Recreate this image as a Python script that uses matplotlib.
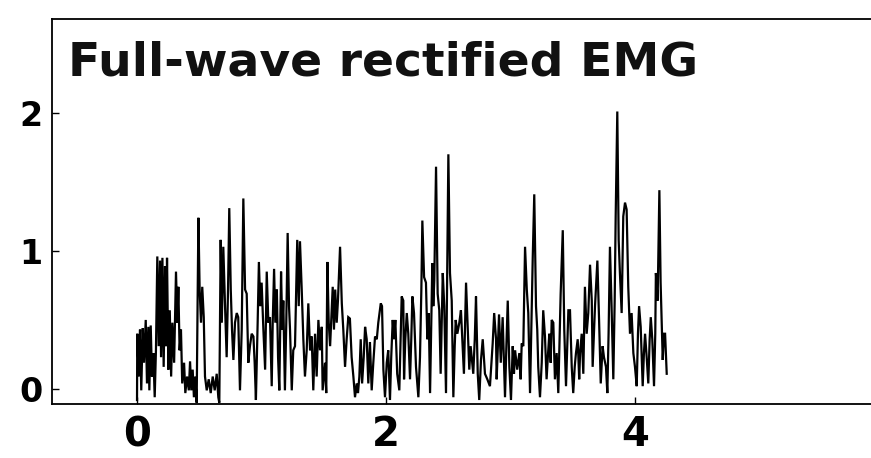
import matplotlib
matplotlib.use("Agg")
import matplotlib.pyplot as plt

title = "Full-wave rectified EMG"
x_ticks = [0, 2, 4]
y_ticks = [0, 1, 2]

t = [0.000, 0.002, 0.014, 0.024, 0.034, 0.046, 0.056, 0.070, 0.080, 0.091,
     0.099, 0.110, 0.120, 0.131, 0.142, 0.152, 0.163, 0.174, 0.185, 0.193,
     0.204, 0.214, 0.225, 0.233, 0.241, 0.252, 0.263, 0.274, 0.284, 0.298,
     0.313, 0.324, 0.332, 0.342, 0.353, 0.363, 0.378, 0.388, 0.402, 0.416,
     0.426, 0.436, 0.447, 0.457, 0.468, 0.479, 0.493, 0.503, 0.514, 0.524,
     0.536, 0.546, 0.560, 0.576, 0.592, 0.608, 0.624, 0.640, 0.653, 0.661,
     0.672,
     0.681, 0.693, 0.707, 0.720, 0.731, 0.741, 0.753, 0.763, 0.774, 0.787,
     0.801, 0.813, 0.827, 0.841, 0.854, 0.868, 0.881, 0.894, 0.907, 0.921,
     0.935, 0.945, 0.955, 0.969, 0.979, 0.990, 1.001, 1.015, 1.029, 1.042,
     1.055, 1.068, 1.082, 1.090, 1.101, 1.111, 1.123, 1.133, 1.143, 1.157,
     1.167, 1.175, 1.188, 1.199, 1.210, 1.221, 1.229, 1.243, 1.255, 1.269,
     1.279, 1.287, 1.299, 1.309, 1.323, 1.336, 1.349, 1.363, 1.376, 1.390,
     1.403, 1.416,
     1.430, 1.443, 1.457, 1.470, 1.484, 1.491, 1.510, 1.520, 1.529, 1.540,
     1.551, 1.561, 1.572, 1.582, 1.592, 1.604, 1.614, 1.631, 1.645, 1.657,
     1.671, 1.684, 1.697, 1.710, 1.724, 1.738, 1.751, 1.765, 1.775, 1.786,
     1.797, 1.808, 1.821, 1.832, 1.845, 1.858, 1.871, 1.885, 1.898, 1.912,
     1.926, 1.938, 1.958, 1.968, 1.979, 1.992, 2.006, 2.018, 2.032, 2.042,
     2.054, 2.064, 2.075, 2.090, 2.107, 2.126, 2.139,
     2.145, 2.155, 2.167, 2.179, 2.193, 2.203, 2.212, 2.225, 2.241, 2.260,
     2.273, 2.284, 2.292, 2.306, 2.321, 2.332, 2.343, 2.354, 2.372, 2.380,
     2.388, 2.402, 2.415, 2.428, 2.439, 2.456, 2.468, 2.482, 2.501, 2.514,
     2.528, 2.541, 2.552, 2.560, 2.573, 2.589, 2.602, 2.616, 2.626, 2.643,
     2.656, 2.669, 2.680, 2.701, 2.713, 2.723, 2.737, 2.749, 2.763, 2.777,
     2.795, 2.814, 2.835, 2.857, 2.869, 2.884,
     2.889, 2.908, 2.922, 2.937, 2.956, 2.967, 2.978, 2.991, 3.004, 3.018,
     3.028, 3.037, 3.054, 3.071, 3.082, 3.090, 3.103, 3.117, 3.131, 3.143,
     3.157, 3.167, 3.179, 3.191, 3.205, 3.215, 3.223, 3.237, 3.251, 3.263,
     3.277, 3.290, 3.302, 3.312, 3.323, 3.331, 3.344, 3.357, 3.371, 3.384,
     3.396, 3.403, 3.420, 3.432, 3.446, 3.456, 3.465, 3.478, 3.492, 3.504,
     3.516, 3.526, 3.540, 3.552,
     3.559, 3.572, 3.585, 3.598, 3.612, 3.625, 3.639, 3.653, 3.660, 3.670,
     3.679, 3.698, 3.711, 3.725, 3.740, 3.751, 3.767, 3.778, 3.788, 3.799,
     3.812, 3.826, 3.837, 3.845, 3.858, 3.869, 3.879, 3.893, 3.906, 3.920,
     3.933, 3.946, 3.960, 3.973, 3.987, 4.000, 4.014, 4.024, 4.033, 4.046,
     4.062, 4.072, 4.081, 4.094, 4.107, 4.118, 4.127, 4.139, 4.153, 4.163,
     4.168, 4.182, 4.196, 4.206, 4.223, 4.233, 4.242, 4.255]

emg = [-0.08, 0.40, 0.09, 0.43, -0.01, 0.44, 0.19, 0.50, 0.04, 0.45,
       -0.01, 0.46, 0.09, 0.26, -0.06, 0.28, 0.96, 0.31, 0.93, 0.23,
       0.95, 0.16, 0.89, 0.31, 0.95, 0.14, 0.57, 0.09, 0.48, 0.19,
       0.85, 0.48, 0.74, 0.28, 0.43, 0.04, 0.19, -0.03, 0.09, -0.01,
       0.20, -0.01, 0.14, -0.06, 0.09, -0.10, 1.24, 0.72, 0.48, 0.74,
       0.52, 0.09, -0.01, 0.07, -0.03, 0.09, -0.01, 0.11, -0.06, -0.10,
       1.08,
       0.48, 1.03, 0.60, 0.23, 0.72, 1.31, 0.72, 0.43, 0.21, 0.48,
       0.55, 0.52, -0.01, 0.43, 1.38, 0.72, 0.69, 0.19, 0.31, 0.40,
       0.38, 0.19, -0.08, 0.48, 0.92, 0.60, 0.77, 0.43, 0.14, 0.85,
       0.48, 0.52, 0.02, 0.48, 0.87, 0.48, 0.72, 0.23, -0.01, 0.85,
       0.43, 0.64, -0.01, 0.48, 1.13, 0.60, 0.43, -0.01, 0.28, 0.31,
       0.72, 1.08, 0.60, 1.07, 0.72, 0.36, 0.09, 0.28, 0.62, 0.28,
       0.38, -0.01,
       0.40, 0.09, 0.50, 0.28, 0.45, -0.01, 0.19, -0.03, 0.92, 0.48,
       0.31, 0.52, 0.74, 0.43, 0.72, 0.48, 0.64, 1.03, 0.62, 0.43,
       0.16, 0.36, 0.52, 0.51, 0.23, 0.09, -0.06, 0.04, -0.03, 0.09,
       0.36, 0.04, 0.23, 0.45, 0.36, 0.04, 0.34, -0.01, 0.19, 0.38,
       0.36, 0.48, 0.62, 0.60, 0.14, -0.06, 0.19, 0.28, -0.08, 0.23,
       0.50, 0.36, 0.50, 0.11, -0.01, 0.67, 0.64,
       0.07, 0.36, 0.55, 0.40, 0.07, 0.36, 0.67, 0.55, 0.16, -0.06,
       0.23, 0.72, 1.22, 0.81, 0.77, 0.36, 0.55, -0.03, 0.91, 0.60,
       0.79, 1.61, 0.69, 0.57, 0.11, 0.84, 0.60, -0.03, 1.70, 0.84,
       0.64, -0.06, 0.31, 0.50, 0.40, 0.48, 0.57, 0.31, 0.11, 0.77,
       0.45, 0.14, 0.31, 0.11, 0.36, 0.67, 0.11, -0.08, 0.21, 0.36,
       0.11, 0.07, 0.02, 0.33, 0.55, 0.36,
       0.07, 0.54, 0.19, 0.52, -0.06, 0.31, 0.64, 0.16, -0.08, 0.31,
       0.11, 0.28, 0.14, 0.26, 0.07, 0.33, 0.31, 1.03, 0.72, 0.55,
       -0.03, 0.43, 0.96, 1.41, 0.60, 0.43, 0.16, -0.06, 0.19, 0.57,
       0.38, 0.07, 0.26, 0.40, 0.19, 0.50, 0.48, 0.07, 0.26, -0.03,
       0.43, 0.69, 1.15, 0.43, 0.02, 0.31, 0.57, 0.57, 0.16, -0.03,
       0.16, 0.26, 0.36, 0.07,
       0.26, 0.40, 0.11, 0.74, 0.40, 0.55, 0.90, 0.64, 0.16, 0.40,
       0.60, 0.93, 0.52, 0.04, 0.31, 0.23, 0.16, -0.03, 0.40, 1.03,
       0.60, 0.07, 0.64, 1.25, 2.01, 1.08, 0.84, 0.55, 1.25, 1.35,
       1.30, 0.74, 0.40, 0.55, 0.26, 0.16, 0.02, 0.40, 0.60, 0.45,
       0.02, 0.26, 0.40, 0.23, 0.04, 0.36, 0.52, 0.36, 0.02, 0.40,
       0.84, 0.64, 1.44, 0.77, 0.21, 0.40, 0.40, 0.11]

fig = plt.figure(figsize=(8.71, 4.58), dpi=100)
ax = fig.add_axes([0.0597, 0.1179, 0.9403, 0.8406])
ax.plot(t, emg, color="black", linewidth=1.6, solid_joinstyle="miter")
ax.set_xlim(-0.683, 5.896)
ax.set_ylim(-0.109, 2.68)
ax.set_xticks(x_ticks)
ax.set_yticks(y_ticks)
ax.set_xticklabels([str(v) for v in x_ticks], fontsize=29,
                   family="DejaVu Sans", fontweight="bold")
ax.set_yticklabels([str(v) for v in y_ticks], fontsize=24,
                   family="DejaVu Sans", fontweight="bold")
ax.tick_params(axis="both", direction="in", length=5, width=1.0, color="black")
ax.tick_params(axis="x", pad=8)
ax.tick_params(axis="y", pad=7)
ax.spines["right"].set_visible(False)
for s in ["left", "bottom", "top"]:
    ax.spines[s].set_linewidth(1.3)
ax.text(0.020, 0.853, title, transform=ax.transAxes, fontsize=34,
        family="DejaVu Sans", fontweight="bold", va="baseline", ha="left",
        color="#111111")
fig.savefig("out.png", dpi=100)
